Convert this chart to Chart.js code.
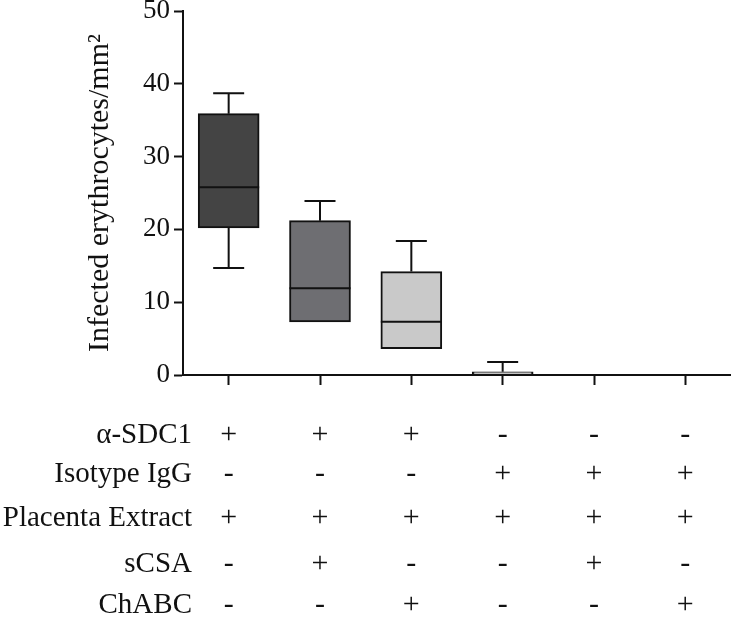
<!DOCTYPE html>
<html>
<head>
<meta charset="utf-8">
<script src="https://cdn.jsdelivr.net/npm/chart.js@4"></script>
<style>
  html, body { margin: 0; padding: 0; background: #fff; }
  #wrap { width: 731px; height: 619px; }
</style>
</head>
<body>
<div id="wrap"><canvas id="grafico"></canvas></div>
<script>
// Dados
const grupos = ['1', '2', '3', '4', '5', '6'];
const whiskerMin = [14.7, 7.3, 3.6, 0, 0, 0];
const q1 = [20.2, 7.3, 3.6, 0, 0, 0];
const mediana = [25.8, 11.9, 7.3, 0, 0, 0];
const q3 = [35.9, 21.2, 14.2, 0.45, 0, 0];
const whiskerMax = [38.7, 23.9, 18.4, 1.8, 0, 0];
const coresCaixa = ['#444444', '#6e6e72', '#c9c9c9', '#ffffff', '#ffffff', '#ffffff'];

// Tabela de condições
const linhas = ['α-SDC1', 'Isotype IgG', 'Placenta Extract', 'sCSA', 'ChABC'];
const aSDC1 = ['+', '+', '+', '-', '-', '-'];
const isotipoIgG = ['-', '-', '-', '+', '+', '+'];
const extratoPlacenta = ['+', '+', '+', '+', '+', '+'];
const sCSA = ['-', '+', '-', '-', '+', '-'];
const chABC = ['-', '-', '+', '-', '-', '+'];
const tabela = [aSDC1, isotipoIgG, extratoPlacenta, sCSA, chABC];

const yTicks = [0, 10, 20, 30, 40, 50];

const fonteSerif = '"Liberation Serif", "Times New Roman", serif';
const corLinha = '#111111';

// Mediana, bigodes e tabela
const boxPlugin = {
    id: 'boxExtras',
    afterDatasetsDraw(chart) {
        const ctx = chart.ctx;
        const x = chart.scales.x;
        const y = chart.scales.y;
        const meta = chart.getDatasetMeta(0);
        ctx.save();
        ctx.strokeStyle = corLinha;
        ctx.lineWidth = 2;
        grupos.forEach((g, i) => {
            const cx = x.getPixelForValue(i);
            const half = meta.data[i].width / 2;
            const cap = 15.5;
            if (q3[i] === 0 && whiskerMax[i] === 0) return;
            ctx.beginPath();
            ctx.moveTo(cx - half, y.getPixelForValue(mediana[i]));
            ctx.lineTo(cx + half, y.getPixelForValue(mediana[i]));
            if (whiskerMax[i] > q3[i]) {
                ctx.moveTo(cx, y.getPixelForValue(q3[i]));
                ctx.lineTo(cx, y.getPixelForValue(whiskerMax[i]));
                ctx.moveTo(cx - cap, y.getPixelForValue(whiskerMax[i]));
                ctx.lineTo(cx + cap, y.getPixelForValue(whiskerMax[i]));
            }
            if (whiskerMin[i] < q1[i]) {
                ctx.moveTo(cx, y.getPixelForValue(q1[i]));
                ctx.lineTo(cx, y.getPixelForValue(whiskerMin[i]));
                ctx.moveTo(cx - cap, y.getPixelForValue(whiskerMin[i]));
                ctx.lineTo(cx + cap, y.getPixelForValue(whiskerMin[i]));
            }
            ctx.stroke();
        });
        ctx.restore();
    },
    afterDraw(chart) {
        const ctx = chart.ctx;
        const x = chart.scales.x;
        const baselines = [443, 482, 526, 572, 613];
        ctx.save();
        ctx.fillStyle = '#111';
        ctx.textBaseline = 'alphabetic';
        linhas.forEach((nome, r) => {
            ctx.font = '29px ' + fonteSerif;
            ctx.textAlign = 'right';
            ctx.fillText(nome, 192, baselines[r]);
            ctx.textAlign = 'center';
            ctx.font = '30px ' + fonteSerif;
            tabela[r].forEach((s, i) => {
                ctx.fillText(s, x.getPixelForValue(i), baselines[r]);
            });
        });
        ctx.restore();
    }
};

const ctxBox = document.getElementById('grafico').getContext('2d');
const graficoBox = new Chart(ctxBox, {
    type: 'bar',
    data: {
        labels: grupos,
        datasets: [{
            data: grupos.map((g, i) => [q1[i], q3[i]]),
            backgroundColor: coresCaixa,
            borderColor: corLinha,
            borderWidth: 2,
            borderSkipped: false,
            barThickness: 61
        }]
    },
    options: {
        responsive: true,
        maintainAspectRatio: false,
        animation: false,
        layout: { padding: { top: 11, right: 0, left: 0, bottom: 0 } },
        plugins: {
            legend: { display: false },
            tooltip: { enabled: false }
        },
        scales: {
            x: {
                offset: true,
                grid: {
                    offset: false,
                    drawOnChartArea: false,
                    tickLength: 10,
                    tickWidth: 2,
                    tickColor: corLinha
                },
                border: { display: true, color: corLinha, width: 2 },
                ticks: { display: false },
                afterFit(scale) { scale.height = 244; }
            },
            y: {
                min: 0,
                max: 50,
                afterBuildTicks(scale) { scale.ticks = yTicks.map(v => ({ value: v })); },
                grid: {
                    drawOnChartArea: false,
                    tickLength: 9,
                    tickWidth: 2,
                    tickColor: corLinha
                },
                border: { display: true, color: corLinha, width: 2 },
                ticks: {
                    color: '#111',
                    padding: 4,
                    font: { family: fonteSerif, size: 27 }
                },
                title: {
                    display: true,
                    text: 'Infected erythrocytes/mm²',
                    color: '#111',
                    font: { family: fonteSerif, size: 30 },
                    padding: { top: 82, bottom: 0 }
                },
                afterFit(scale) {
                    scale.width = 183;
                    scale.paddingTop = 0;
                    scale.paddingBottom = 0;
                }
            }
        }
    },
    plugins: [boxPlugin]
});
</script>
</body>
</html>
